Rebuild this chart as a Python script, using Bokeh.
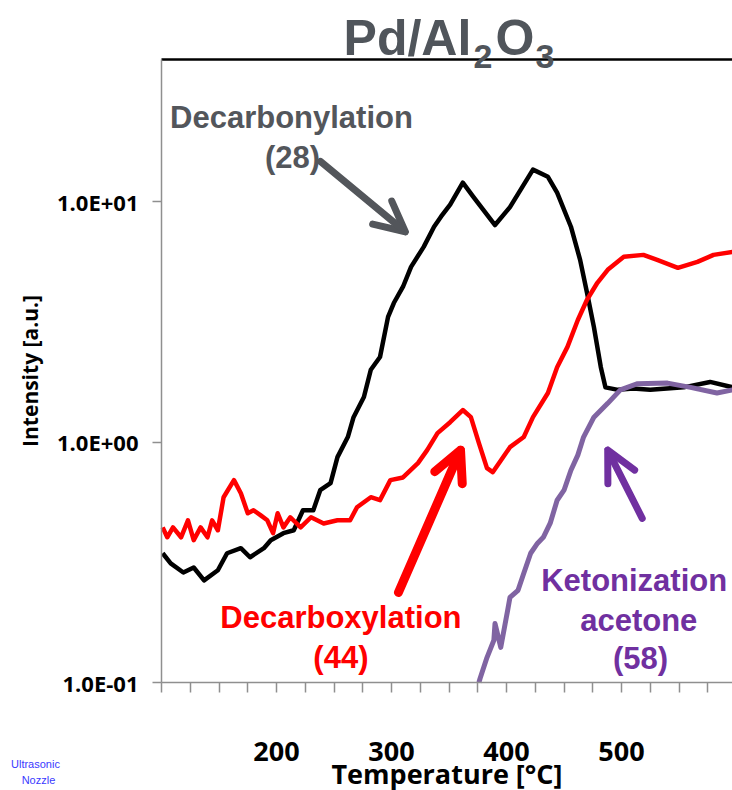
from bokeh.plotting import figure
from bokeh.models import (Range1d, FixedTicker, Label, Arrow, OpenHead, LinearAxis)
from bokeh.embed import file_html
from bokeh.resources import INLINE

# ---------------- data ----------------
t_28 = [101, 108, 119, 128, 137, 149, 157, 169, 177, 189, 195, 206, 215, 223, 232,
        238, 247, 253, 262, 267, 276, 282, 290, 297, 302, 310, 317, 328, 337, 343,
        351, 362, 371, 390, 403, 423, 436, 444, 456, 464, 470, 476, 482, 486, 497,
        510, 525, 554, 577, 597]
v_28 = [0.345, 0.313, 0.287, 0.301, 0.266, 0.293, 0.345, 0.362, 0.332, 0.362, 0.391,
        0.418, 0.430, 0.521, 0.521, 0.631, 0.675, 0.866, 1.05, 1.27, 1.54, 2.0, 2.26,
        3.32, 3.79, 4.43, 5.36, 6.49, 7.87, 8.66, 9.72, 12.0, 10.5, 8.0, 9.5, 13.6,
        12.7, 10.9, 7.87, 5.73, 4.18, 3.01, 2.05, 1.69, 1.65, 1.67, 1.65, 1.69, 1.78,
        1.69]

t_44 = [101, 105, 110, 117, 123, 128, 134, 140, 144, 149, 154, 163, 169, 175, 180,
        186, 192, 197, 201, 206, 212, 221, 230, 241, 253, 264, 270, 282, 290, 299,
        310, 323, 331, 340, 351, 362, 369, 376, 383, 388, 397, 403, 415, 423, 436,
        444, 453, 462, 470, 479, 488, 502, 519, 531, 549, 566, 580, 597]
v_44 = [0.442, 0.402, 0.442, 0.402, 0.473, 0.391, 0.442, 0.402, 0.473, 0.430, 0.590,
        0.695, 0.613, 0.506, 0.521, 0.497, 0.473, 0.418, 0.506, 0.442, 0.487, 0.442,
        0.487, 0.459, 0.473, 0.473, 0.536, 0.590, 0.574, 0.695, 0.713, 0.818, 0.926,
        1.09, 1.21, 1.36, 1.27, 0.99, 0.78, 0.75, 0.866, 0.953, 1.05, 1.27, 1.60, 2.05,
        2.49, 3.22, 3.91, 4.60, 5.21, 5.90, 6.01, 5.73, 5.31, 5.62, 6.01, 6.19]

t_58 = [376, 377, 383, 389, 390, 395, 401, 403, 410, 415, 421, 427, 432, 438, 444,
        450, 456, 462, 467, 476, 488, 499, 514, 540, 560, 583, 597]
v_58 = [0.100, 0.104, 0.127, 0.150, 0.176, 0.140, 0.200, 0.226, 0.242, 0.285, 0.345,
        0.380, 0.402, 0.460, 0.573, 0.631, 0.764, 0.883, 1.05, 1.27, 1.45, 1.65, 1.75,
        1.76, 1.69, 1.60, 1.65]

x_tick_values = [200, 300, 400, 500]
x_minor_values = [100, 125, 150, 175, 225, 250, 275, 325, 350, 375, 425, 450, 475,
                  525, 550, 575, 600]
y_tick_values = [0.1, 1, 10]
y_tick_labels = ["1.0E-01", "1.0E+00", "1.0E+01"]

X_MIN, X_MAX = 100, 600
Y_MIN, Y_MAX = 0.1, 39.06

# ---------------- figure ----------------
W, H = 732, 790
p = figure(width=W, height=H, output_backend="svg", toolbar_location=None,
           y_axis_type="log",
           x_range=Range1d(-40, 596.5), y_range=Range1d(0.03556, 68.7),
           min_border=0, min_border_left=0, min_border_right=0,
           min_border_top=0, min_border_bottom=0)
p.outline_line_color = None
p.xgrid.visible = False
p.ygrid.visible = False
p.background_fill_color = "white"
p.border_fill_color = "white"

AX_GRAY = "#8f8f8f"
AX_FONT = "Open Sans"

# x axis
xa = p.xaxis[0]
xa.fixed_location = Y_MIN
xa.bounds = (X_MIN, X_MAX)
xa.ticker = FixedTicker(ticks=x_tick_values, minor_ticks=x_minor_values)
xa.axis_line_color = AX_GRAY
xa.axis_line_width = 1.5
xa.major_tick_line_color = AX_GRAY
xa.minor_tick_line_color = AX_GRAY
xa.major_tick_line_width = 1.5
xa.minor_tick_line_width = 1.5
xa.major_tick_in = 0
xa.major_tick_out = 10
xa.minor_tick_in = 0
xa.minor_tick_out = 10
xa.major_label_standoff = 49
xa.major_label_text_font = AX_FONT
xa.major_label_text_font_style = "bold"
xa.major_label_text_font_size = "27px"
xa.major_label_text_color = "black"
xa.axis_label = "Temperature [°C]"
xa.axis_label_text_font = AX_FONT
xa.axis_label_text_font_style = "bold"
xa.axis_label_text_font_size = "27px"
xa.axis_label_text_color = "black"
xa.axis_label_standoff = -9

# y axis
ya = p.yaxis[0]
ya.fixed_location = X_MIN
ya.bounds = (Y_MIN, Y_MAX)
ya.ticker = FixedTicker(ticks=y_tick_values, minor_ticks=[])
ya.major_label_overrides = {v: s for v, s in zip(y_tick_values, y_tick_labels)}
ya.axis_line_color = AX_GRAY
ya.axis_line_width = 1.5
ya.major_tick_line_color = AX_GRAY
ya.major_tick_line_width = 1.5
ya.major_tick_in = 0
ya.major_tick_out = 9
ya.minor_tick_line_color = None
ya.major_label_standoff = 14
ya.major_label_text_font = AX_FONT
ya.major_label_text_font_style = "bold"
ya.major_label_text_font_size = "22px"
ya.major_label_text_color = "black"
ya.axis_label = "Intensity [a.u.]"
ya.axis_label_text_font = AX_FONT
ya.axis_label_text_font_style = "bold"
ya.axis_label_text_font_size = "21px"
ya.axis_label_text_color = "black"
ya.axis_label_standoff = 10

# top border of the plot area (an empty axis)
top = LinearAxis(fixed_location=Y_MAX, bounds=(X_MIN, X_MAX),
                 ticker=FixedTicker(ticks=[], minor_ticks=[]),
                 axis_line_color="black", axis_line_width=2.5,
                 major_tick_line_color=None, minor_tick_line_color=None,
                 major_label_text_font_size="0px")
p.add_layout(top, "above")

# curves
p.line(t_28, v_28, line_color="black", line_width=4.5, line_join="round")
p.line(t_44, v_44, line_color="#ff0000", line_width=4.5, line_join="round")
p.line(t_58, v_58, line_color="#8064a2", line_width=5, line_join="round")

# annotations
GRAY = "#53565b"
RED = "#ff0000"
PURPLE = "#7030a0"
ANN_FONT = "Liberation Sans"


def lab(x, y, text, color, size="31px", align="center", baseline="middle",
        font=ANN_FONT, style="bold"):
    p.add_layout(Label(x=x, y=y, text=text, text_color=color, text_font=font,
                       text_font_style=style, text_font_size=size,
                       text_align=align, text_baseline=baseline))


lab(213, 22.4, "Decarbonylation", GRAY)
lab(214, 15.3, "(28)", GRAY)
lab(256, 0.187, "Decarboxylation", RED)
lab(256, 0.127, "(44)", RED)
lab(511, 0.266, "Ketonization", PURPLE)
lab(515, 0.181, "acetone", PURPLE)
lab(516.5, 0.126, "(58)", PURPLE)


def arrow(x0, y0, x1, y1, color, lw):
    p.add_layout(Arrow(x_start=x0, y_start=y0, x_end=x1, y_end=y1,
                       line_color=color, line_width=lw, line_cap="round",
                       end=OpenHead(size=30, line_color=color, line_width=lw,
                                    line_cap="round", line_join="round")))


arrow(238.3, 14.7, 312, 7.5, GRAY, 7)
arrow(306, 0.237, 360, 0.926, RED, 9)
arrow(518, 0.482, 488, 0.926, PURPLE, 7)

# title  Pd/Al2O3
TITLE = "#50555b"
lab(258.3, 48.2, "Pd/Al", TITLE, size="50px", align="left", baseline="alphabetic")
lab(371.3, 40.2, "2", TITLE, size="34px", align="left", baseline="alphabetic")
lab(390.4, 48.2, "O", TITLE, size="50px", align="left", baseline="alphabetic")
lab(425.2, 40.2, "3", TITLE, size="34px", align="left", baseline="alphabetic")

# small blue note at bottom left
lab(-9.6, 0.046, "Ultrasonic", "#3a3aff", size="11px", style="normal")
lab(-7.0, 0.0395, "Nozzle", "#3a3aff", size="11px", style="normal")

open("out.html", "w").write(file_html(p, INLINE))
